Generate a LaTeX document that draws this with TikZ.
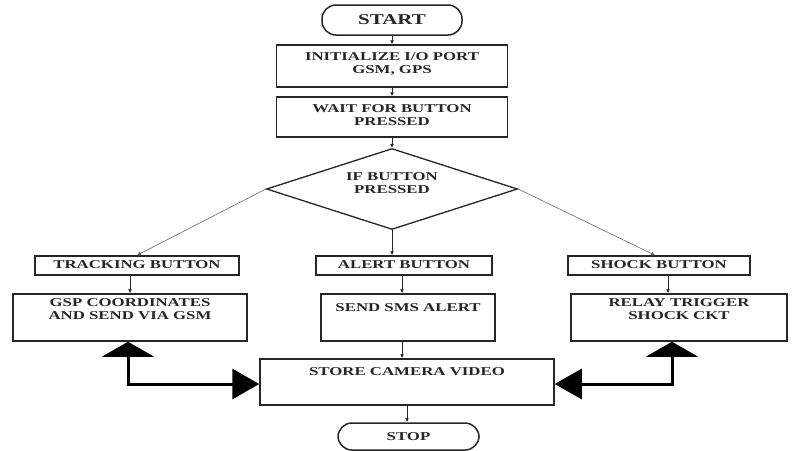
\documentclass[tikz,border=0pt]{standalone}
\usepackage{fontspec}
\newfontfamily\lbl{Liberation Serif}[FakeStretch=1.4]
\usetikzlibrary{shapes.geometric,arrows.meta,calc}
\tikzset{
  box/.style={draw=black!85, line width=1.5pt, rectangle, inner sep=0pt},
  term/.style={draw=black!85, line width=1.5pt, rectangle, rounded corners=14pt, inner sep=0pt},
  dec/.style={draw=black!85, line width=1.3pt, diamond, inner sep=0pt},
  txt/.style={font=\lbl\bfseries\fontsize{12}{13.5}\selectfont, text=black!85, align=center, inner sep=0pt},
  arr/.style={draw=black!85, line width=0.8pt, -{Latex[length=4pt,width=4pt]}},
  thin/.style={draw=black!60, line width=0.6pt, -{Latex[length=4pt,width=4pt]}},
  bigline/.style={draw=black, line width=3pt},
}
\begin{document}
\begin{tikzpicture}[x=1pt,y=-1pt]
\useasboundingbox (0,0) rectangle (792,450);
% shapes
\node[term, minimum width=140pt, minimum height=30pt] (start) at (392,20) {};
\node[txt, font=\lbl\bfseries\fontsize{15}{16}\selectfont] (startt) at (392,20) {START};
\node[box, minimum width=231pt, minimum height=42pt] (init) at (392,66) {};
\node[txt] (initt) at (392,64) {INITIALIZE I/O PORT\\GSM, GPS};
\node[box, minimum width=231pt, minimum height=40pt] (wait) at (392,117) {};
\node[txt] (waitt) at (392,115) {WAIT FOR BUTTON\\PRESSED};
\node[dec, minimum width=251pt, minimum height=81pt] (dia) at (392,189) {};
\node[txt] (diat) at (392,183) {IF BUTTON\\PRESSED};
\node[box, minimum width=204pt, minimum height=19pt] (trk) at (137,265.5) {};
\node[txt] (trkt) at (137,265) {TRACKING BUTTON};
\node[box, minimum width=176pt, minimum height=19pt] (alert) at (404,265.5) {};
\node[txt] (alertt) at (404,265) {ALERT BUTTON};
\node[box, minimum width=182pt, minimum height=19pt] (shock) at (659,265.5) {};
\node[txt] (shockt) at (659,265) {SHOCK BUTTON};
\node[box, minimum width=234pt, minimum height=47pt] (gsp) at (130,317.5) {};
\node[txt] (gspt) at (130,309) {GSP COORDINATES\\AND SEND VIA GSM};
\node[box, minimum width=174pt, minimum height=47pt] (sms) at (408,317.5) {};
\node[txt] (smst) at (408,308) {SEND SMS ALERT};
\node[box, minimum width=216pt, minimum height=47pt] (relay) at (679,317.5) {};
\node[txt] (relayt) at (679,309) {RELAY TRIGGER\\SHOCK CKT};
\node[box, minimum width=294pt, minimum height=46pt] (store) at (407,382) {};
\node[txt] (storet) at (407,372) {STORE CAMERA VIDEO};
\node[term, minimum width=141pt, minimum height=27pt] (stop) at (408.5,436.5) {};
\node[txt] (stopt) at (408.5,437) {STOP};
% connectors
\draw[arr] (start) -- (init);
\draw[arr] (init) -- (wait);
\draw[arr] (wait) -- (dia);
\draw[thin] (dia.west) -- (trk.north);
\draw[arr] (dia.south) -- (dia.south |- alert.north);
\draw[thin] (dia.east) -- ($(shock.north)+(-4,0)$);
\draw[arr] (gsp.north |- trk.south) -- (gsp.north);
\draw[arr] ($(alert.south)+(-2,0)$) -- ($(alert.south |- sms.north)+(-2,0)$);
\draw[arr] ($(shock.south)+(9,0)$) -- ($(shock.south |- relay.north)+(9,0)$);
\draw[arr] ($(sms.south)+(-6,0)$) -- ($(sms.south |- store.north)+(-6,0)$);
\draw[arr] (store.south) -- (store.south |- stop.north);
\draw[bigline, {Triangle[length=15pt,width=52pt]}-{Triangle[length=27pt,width=30pt]}]
  ($(gsp.south)+(-2,0)$) |- ($(store.west)+(0,2)$);
\draw[bigline, {Triangle[length=15pt,width=52pt]}-{Triangle[length=27pt,width=30pt]}]
  ($(relay.south)+(-7,0)$) |- ($(store.east)+(0,2)$);
\end{tikzpicture}
\end{document}
